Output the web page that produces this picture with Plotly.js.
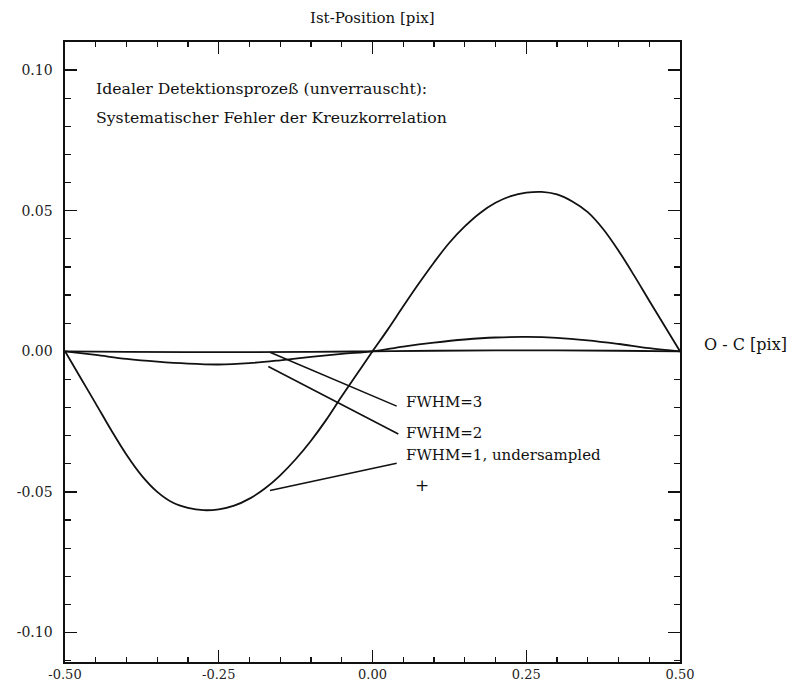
<!DOCTYPE html>
<html>
<head>
<meta charset="utf-8">
<script src="https://cdn.plot.ly/plotly-3.0.1.min.js"></script>
<style>html,body{margin:0;padding:0;background:#fff;}#chart{width:795px;height:690px;}</style>
</head>
<body>
<div id="chart"></div>
<script>
// FWHM = 1, undersampled (x every 0.025)
const x1 = [-0.500,-0.475,-0.450,-0.425,-0.400,-0.375,-0.350,-0.325,-0.300,-0.275,-0.250,-0.225,-0.200,-0.175,-0.150,-0.125,-0.100,-0.075,-0.050,-0.025,
            0.000,0.025,0.050,0.075,0.100,0.125,0.150,0.175,0.200,0.225,0.250,0.275,0.300,0.325,0.350,0.375,0.400,0.425,0.450,0.475,0.500];
const y1 = [0,-0.0093,-0.0186,-0.0280,-0.0368,-0.0443,-0.0500,-0.0538,-0.0557,-0.0565,-0.0562,-0.0549,-0.0524,-0.0488,-0.0441,-0.0384,-0.0318,-0.0243,-0.0160,-0.0080,
            0,0.0078,0.0160,0.0240,0.0316,0.0386,0.0444,0.0492,0.0528,0.0552,0.0564,0.0567,0.0558,0.0533,0.0495,0.0435,0.0358,0.0271,0.0180,0.0090,0];
// FWHM = 2
const x2 = [-0.50,-0.45,-0.40,-0.35,-0.30,-0.25,-0.20,-0.15,-0.10,-0.05,0.00,0.05,0.10,0.15,0.20,0.25,0.30,0.35,0.40,0.45,0.50];
const y2 = [0,-0.0013,-0.0027,-0.0037,-0.0044,-0.0047,-0.0042,-0.0032,-0.0020,-0.0009,0,0.0017,0.0031,0.0042,0.0049,0.0051,0.0048,0.0039,0.0026,0.0011,0];
// FWHM = 3
const x3 = [-0.5,-0.4,-0.3,-0.2,-0.1,0.0,0.1,0.2,0.3,0.4,0.5];
const y3 = [0,-0.0002,-0.0003,-0.0003,-0.0002,0,0.0002,0.0003,0.0003,0.0002,0];

const xTickVals = [-0.5,-0.25,0,0.25,0.5];
const xTickText = ["-0.50","-0.25","0.00","0.25","0.50"];
const yTickVals = [-0.10,-0.05,0,0.05,0.10];
const yTickText = ["-0.10","-0.05","0.00","0.05","0.10"];

const lineStyle = {color:'#111', width:1.8, shape:'spline', smoothing:1};
const traces = [
  {x:x1, y:y1, mode:'lines', line:lineStyle, name:'FWHM=1'},
  {x:x2, y:y2, mode:'lines', line:lineStyle, name:'FWHM=2'},
  {x:x3, y:y3, mode:'lines', line:lineStyle, name:'FWHM=3'}
];

const serif = 'DejaVu Serif, Liberation Serif, serif';
const txtFont = {family:serif, size:15.7, color:'#111'};
const lblFont = {family:serif, size:15, color:'#111'};

const layout = {
  width:795, height:690,
  margin:{l:65, r:115, t:42, b:28},
  paper_bgcolor:'#fff', plot_bgcolor:'#fff',
  showlegend:false,
  xaxis:{range:[-0.5,0.5], tickmode:'array', tickvals:xTickVals, ticktext:xTickText,
         ticks:'inside', ticklen:12, tickwidth:1.3, tickcolor:'#111',
         minor:{tickmode:'linear', tick0:-0.5, dtick:0.05, ticks:'inside', ticklen:5, tickwidth:1.2, tickcolor:'#111'},
         showline:true, linecolor:'#111', linewidth:1.6, mirror:'ticks',
         showgrid:false, zeroline:false,
         tickfont:{family:serif, size:13, color:'#222'}},
  yaxis:{range:[-0.1105,0.1100], tickmode:'array', tickvals:yTickVals, ticktext:yTickText,
         ticks:'inside', ticklen:12, tickwidth:1.3, tickcolor:'#111',
         minor:{tickmode:'linear', tick0:-0.10, dtick:0.01, ticks:'inside', ticklen:6, tickwidth:1.2, tickcolor:'#111'},
         showline:true, linecolor:'#111', linewidth:1.6, mirror:'ticks',
         showgrid:false, zeroline:false, ticklabelstandoff:8,
         tickfont:{family:serif, size:14, color:'#222'}},
  shapes:[
    {type:'line', xref:'x', yref:'y', x0:-0.1667, y0:-0.0003, x1:0.0393, y1:-0.0195, line:{color:'#111', width:1.6}},
    {type:'line', xref:'x', yref:'y', x0:-0.1694, y0:-0.0054, x1:0.0420, y1:-0.0294, line:{color:'#111', width:1.6}},
    {type:'line', xref:'x', yref:'y', x0:-0.1667, y0:-0.0495, x1:0.0393, y1:-0.0398, line:{color:'#111', width:1.6}}
  ],
  annotations:[
    {xref:'paper', yref:'paper', x:0.5, y:1, yshift:24, text:'Ist-Position [pix]', showarrow:false, xanchor:'center', yanchor:'middle', font:{family:serif, size:15, color:'#111'}},
    {xref:'paper', yref:'y', x:1, xshift:22, y:0.0025, text:'O - C [pix]', showarrow:false, xanchor:'left', yanchor:'middle', font:{family:serif, size:16, color:'#111'}},
    {xref:'x', yref:'paper', x:-0.453, y:0.925, text:'Idealer Detektionsprozeß (unverrauscht):', showarrow:false, xanchor:'left', yanchor:'middle', font:txtFont},
    {xref:'x', yref:'paper', x:-0.453, y:0.878, text:'Systematischer Fehler der Kreuzkorrelation', showarrow:false, xanchor:'left', yanchor:'middle', font:txtFont},
    {xref:'x', yref:'y', x:0.0510, y:-0.0181, text:'FWHM=3', showarrow:false, xanchor:'left', yanchor:'middle', font:lblFont},
    {xref:'x', yref:'y', x:0.0510, y:-0.0292, text:'FWHM=2', showarrow:false, xanchor:'left', yanchor:'middle', font:lblFont},
    {xref:'x', yref:'y', x:0.0510, y:-0.0368, text:'FWHM=1, undersampled', showarrow:false, xanchor:'left', yanchor:'middle', font:lblFont},
    {xref:'x', yref:'y', x:0.080, y:-0.0474, text:'+', showarrow:false, xanchor:'center', yanchor:'middle', font:{family:serif, size:17, color:'#111'}}
  ]
};

Plotly.newPlot('chart', traces, layout, {displayModeBar:false, staticPlot:true});
</script>
</body>
</html>
